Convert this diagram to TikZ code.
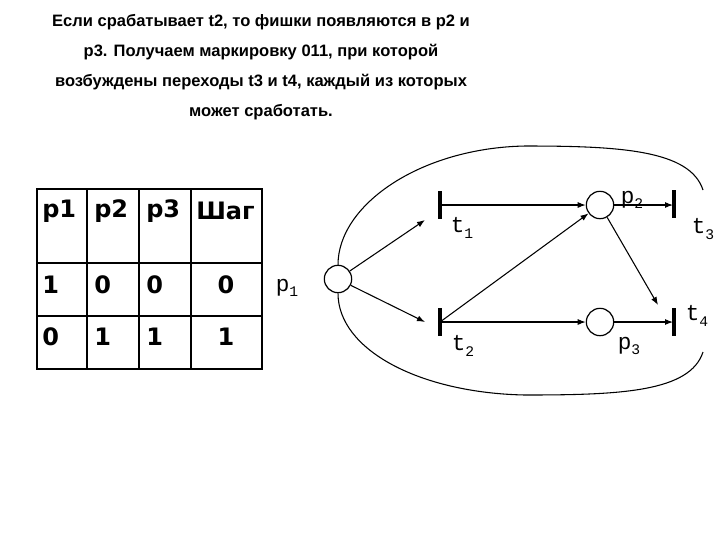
\documentclass[tikz,border=0pt]{standalone}
\usepackage{fontspec}
\usetikzlibrary{arrows.meta}
\setmainfont{Liberation Sans}
\newfontfamily\tabfont{DejaVu Sans}
\newfontfamily\monofont{Liberation Mono}
\newcommand{\sbs}[1]{\raisebox{-0.25em}{\fontsize{11}{11}\selectfont #1}}
\begin{document}
\begin{tikzpicture}[x=0.75pt,y=-0.75pt,
  place/.style={draw,circle,minimum size=20.5pt,inner sep=0pt,line width=0.9pt},
  trans/.style={line width=2.6pt},
  arc/.style={line width=0.8pt,-{Latex[length=6pt,width=4.5pt]}},
  lbl/.style={font=\monofont\fontsize{17}{17}\selectfont,inner sep=0pt},
  cell/.style={font=\tabfont\bfseries\fontsize{18}{18}\selectfont,inner sep=0pt},
  title/.style={font=\bfseries\fontsize{12.4}{16}\selectfont}]
\useasboundingbox (0,0) rectangle (720,540);
\node[title] (l1) at (261,22) {Если срабатывает t2, то фишки появляются в p2 и};
\node[title] (l2) at (261,52) {p3. Получаем маркировку 011, при которой};
\node[title] (l3) at (261,82) {возбуждены переходы t3 и t4, каждый из которых};
\node[title] (l4) at (261,112) {может сработать.};
% table
\draw[line width=0.8pt] (37,189) rectangle (262,369);
\foreach \x in {87,139,191} \draw[line width=0.8pt] (\x,189) -- (\x,369);
\foreach \y in {263,316} \draw[line width=0.8pt] (37,\y) -- (262,\y);
\node[cell,anchor=west] (h1) at (42,211) {p1};
\node[cell,anchor=west] (h2) at (94,211) {p2};
\node[cell,anchor=west] (h3) at (146,211) {p3};
\node[cell,anchor=west] (h4) at (196,211) {Шаг};
\node[cell,anchor=west] (a1) at (42,285) {1};
\node[cell,anchor=west] (a2) at (94,285) {0};
\node[cell,anchor=west] (a3) at (146,285) {0};
\node[cell] (a4) at (226,285) {0};
\node[cell,anchor=west] (b1) at (42,337) {0};
\node[cell,anchor=west] (b2) at (94,337) {1};
\node[cell,anchor=west] (b3) at (146,337) {1};
\node[cell] (b4) at (226,337) {1};
% net
\node[place] (p1) at (338,279) {};
\node[place] (p2) at (600,205) {};
\node[place] (p3) at (600,322) {};
\coordinate (t1a) at (440,191); \coordinate (t1b) at (440,219);
\coordinate (t2a) at (440,308); \coordinate (t2b) at (440,336);
\coordinate (t3a) at (674,190); \coordinate (t3b) at (674,218);
\coordinate (t4a) at (674,308); \coordinate (t4b) at (674,336);
\draw[trans] (t1a) -- (t1b);
\draw[trans] (t2a) -- (t2b);
\draw[trans] (t3a) -- (t3b);
\draw[trans] (t4a) -- (t4b);
\coordinate (t1) at (440,205); \coordinate (t2) at (440,322);
\coordinate (t3) at (673,205); \coordinate (t4) at (673,322);
\coordinate (t1in) at (425,220); \coordinate (t2in) at (425,322);
\coordinate (t4in) at (658,305);
\draw[arc] (p1) -- (t1in);
\draw[arc] (p1) -- (t2in);
\draw[arc] (t1) -- (p2);
\draw[arc] (t2) -- (p2);
\draw[arc] (t2) -- (p3);
\draw[arc] (p2) -- (t3);
\draw[arc] (p2) -- (t4in);
\draw[arc] (p3) -- (t4);
\coordinate (r1) at (703,190); \coordinate (r2) at (703,352);
\draw[line width=0.8pt] (r1) .. controls (690,150) and (620,146) .. (525,146)
  .. controls (420,148) and (338,205) .. (p1.north);
\draw[line width=0.8pt] (r2) .. controls (690,392) and (620,395) .. (525,395)
  .. controls (420,393) and (338,350) .. (p1.south);
\node[lbl] (lp1) at (287,288) {p\sbs{1}};
\node[lbl] (lp2) at (632,200) {p\sbs{2}};
\node[lbl] (lp3) at (629,346) {p\sbs{3}};
\node[lbl] (lt1) at (462,228) {t\sbs{1}};
\node[lbl] (lt2) at (463,346) {t\sbs{2}};
\node[lbl] (lt3) at (703,229) {t\sbs{3}};
\node[lbl] (lt4) at (697,316) {t\sbs{4}};
\end{tikzpicture}
\end{document}
